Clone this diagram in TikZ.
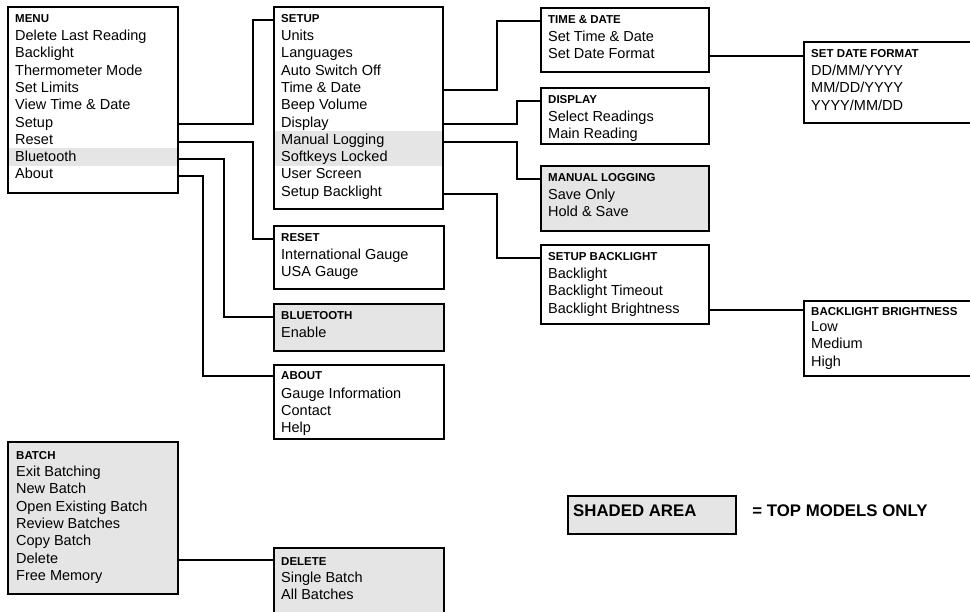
\documentclass[tikz,border=0pt]{standalone}
\usepackage{fontspec}
\setmainfont{Liberation Sans}
\usetikzlibrary{calc,backgrounds}
\definecolor{shadegray}{RGB}{229,229,229}

\tikzset{
  box/.style={draw, line width=2.2pt, anchor=north west, inner sep=0pt},
  grey/.style={fill=shadegray},
  head/.style={anchor=base west, inner sep=0pt, font=\fontsize{11.5}{13}\selectfont\bfseries},
  item/.style={anchor=base west, inner sep=0pt, font=\fontsize{14.5}{17}\selectfont},
  note/.style={anchor=base west, inner sep=0pt, font=\fontsize{16.8}{20}\selectfont\bfseries},
  link/.style={line width=2pt},
}

\begin{document}
\begin{tikzpicture}[x=1pt,y=1pt]
        \useasboundingbox (0,0) rectangle (970,-611);

        % main menu
        \node[box, minimum width=170, minimum height=186] (menu) at (7,-6) {};
        \node[head] (menu-0) at ([shift={(8,-16.5)}]menu.north west) {MENU};
        \foreach \t [count=\i] in {Delete Last Reading, Backlight, Thermometer Mode, Set Limits, View Time \& Date, Setup, Reset, Bluetooth, About}
          \node[item] (menu-\i) at ([yshift={-18-(\i-1)*17.3}]menu-0.base west) {\t};

        % setup
        \node[box, minimum width=169, minimum height=202] (setup) at (273,-6) {};
        \node[head] (setup-0) at ([shift={(8,-16.5)}]setup.north west) {SETUP};
        \foreach \t [count=\i] in {Units, Languages, Auto Switch Off, Time \& Date, Beep Volume, Display, Manual Logging, Softkeys Locked, User Screen, Setup Backlight}
          \node[item] (setup-\i) at ([yshift={-18-(\i-1)*17.3}]setup-0.base west) {\t};

        \node[box, minimum width=168, minimum height=64] (timedate) at (540,-7) {};
        \node[head] (timedate-0) at ([shift={(8,-16.5)}]timedate.north west) {TIME \& DATE};
        \foreach \t [count=\i] in {Set Time \& Date, Set Date Format}
          \node[item] (timedate-\i) at ([yshift={-18-(\i-1)*17.3}]timedate-0.base west) {\t};

        \node[box, minimum width=166.5, minimum height=81] (dateformat) at (803,-41) {};
        \node[head] (dateformat-0) at ([shift={(8,-16.5)}]dateformat.north west) {SET DATE FORMAT};
        \foreach \t [count=\i] in {DD/MM/YYYY, MM/DD/YYYY, YYYY/MM/DD}
          \node[item] (dateformat-\i) at ([yshift={-18-(\i-1)*17.3}]dateformat-0.base west) {\t};

        \node[box, minimum width=168, minimum height=56] (display) at (540,-87) {};
        \node[head] (display-0) at ([shift={(8,-16.5)}]display.north west) {DISPLAY};
        \foreach \t [count=\i] in {Select Readings, Main Reading}
          \node[item] (display-\i) at ([yshift={-18-(\i-1)*17.3}]display-0.base west) {\t};

        \node[box, grey, minimum width=168, minimum height=65] (logging) at (540,-165) {};
        \node[head] (logging-0) at ([shift={(8,-16.5)}]logging.north west) {MANUAL LOGGING};
        \foreach \t [count=\i] in {Save Only, Hold \& Save}
          \node[item] (logging-\i) at ([yshift={-18-(\i-1)*17.3}]logging-0.base west) {\t};

        \node[box, minimum width=168, minimum height=79] (backlight) at (540,-244) {};
        \node[head] (backlight-0) at ([shift={(8,-16.5)}]backlight.north west) {SETUP BACKLIGHT};
        \foreach \t [count=\i] in {Backlight, Backlight Timeout, Backlight Brightness}
          \node[item] (backlight-\i) at ([yshift={-18-(\i-1)*17.3}]backlight-0.base west) {\t};

        \node[box, minimum width=166.5, minimum height=75] (brightness) at (803,-300) {};
        \node[head] (brightness-0) at ([shift={(8,-15)}]brightness.north west) {BACKLIGHT BRIGHTNESS};
        \foreach \t [count=\i] in {Low, Medium, High}
          \node[item] (brightness-\i) at ([yshift={-16-(\i-1)*17.8}]brightness-0.base west) {\t};

        % reset, bluetooth, about
        \node[box, minimum width=170, minimum height=63] (reset) at (273,-225) {};
        \node[head] (reset-0) at ([shift={(8,-16.5)}]reset.north west) {RESET};
        \foreach \t [count=\i] in {International Gauge, USA Gauge}
          \node[item] (reset-\i) at ([yshift={-18-(\i-1)*17.3}]reset-0.base west) {\t};

        \node[box, grey, minimum width=170, minimum height=47] (bluetooth) at (273,-303) {};
        \node[head] (bluetooth-0) at ([shift={(8,-16.5)}]bluetooth.north west) {BLUETOOTH};
        \foreach \t [count=\i] in {Enable}
          \node[item] (bluetooth-\i) at ([yshift={-18-(\i-1)*17.3}]bluetooth-0.base west) {\t};

        \node[box, minimum width=170, minimum height=74] (about) at (273,-364) {};
        \node[head] (about-0) at ([shift={(8,-15)}]about.north west) {ABOUT};
        \foreach \t [count=\i] in {Gauge Information, Contact, Help}
          \node[item] (about-\i) at ([yshift={-19-(\i-1)*17.3}]about-0.base west) {\t};

        % batch
        \node[box, grey, minimum width=170, minimum height=152] (batch) at (7,-441) {};
        \node[head] (batch-0) at ([shift={(9,-18)}]batch.north west) {BATCH};
        \foreach \t [count=\i] in {Exit Batching, New Batch, Open Existing Batch, Review Batches, Copy Batch, Delete, Free Memory}
          \node[item] (batch-\i) at ([yshift={-17.5-(\i-1)*17.3}]batch-0.base west) {\t};

        \node[box, grey, minimum width=170, minimum height=70] (delete) at (273,-547) {};
        \node[head] (delete-0) at ([shift={(8,-18)}]delete.north west) {DELETE};
        \foreach \t [count=\i] in {Single Batch, All Batches}
          \node[item] (delete-\i) at ([yshift={-17.5-(\i-1)*17.3}]delete-0.base west) {\t};

        % legend
        \node[box, grey, minimum width=168, minimum height=38] (legend) at (567,-495) {};
        \node[note] (legend-0) at ([shift={(6,-21)}]legend.north west) {SHADED AREA};
        \node[note] (legend-1) at ([xshift=15]legend.east |- legend-0.base) {= TOP MODELS ONLY};

        % shaded rows
        \begin{scope}[on background layer]
          \fill[shadegray] ($(menu.west |- menu-8.base)+(0,13.7)$) rectangle ($(menu.east |- menu-8.base)+(0,-4.6)$);
          \fill[shadegray] ($(setup.west |- setup-7.base)+(0,13.7)$) rectangle ($(setup.east |- setup-8.base)+(0,-4.6)$);
        \end{scope}

        % connectors
        \draw[link] (menu.east |- menu-6.mid) -- ++(74,0) |- (setup.west |- setup-0.mid);
        \draw[link] (menu.east |- menu-7.mid) -- ++(74,0) |- (reset.west |- reset-0.mid);
        \draw[link] (menu.east |- menu-8.mid) -- ++(45,0) |- (bluetooth.west |- bluetooth-0.mid);
        \draw[link] (menu.east |- menu-9.mid) -- ++(24,0) |- (about.west |- about-0.mid);
        \draw[link] (setup.east |- setup-4.mid) -- ++(53,0) |- (timedate.west |- timedate-0.mid);
        \draw[link] (setup.east |- setup-6.mid) -- ++(73,0) |- (display.west |- display-0.mid);
        \draw[link] (setup.east |- setup-7.mid) -- ++(73,0) |- (logging.west |- logging-0.mid);
        \draw[link] (setup.east |- setup-10.mid) -- ++(53,0) |- (backlight.west |- backlight-0.mid);
        \draw[link] (timedate.east |- timedate-2.mid) -- (dateformat.west |- timedate-2.mid);
        \draw[link] (backlight.east |- backlight-3.mid) -- (brightness.west |- backlight-3.mid);
        \draw[link] (batch.east |- batch-6.mid) -- (delete.west |- batch-6.mid);
\end{tikzpicture}
\end{document}
